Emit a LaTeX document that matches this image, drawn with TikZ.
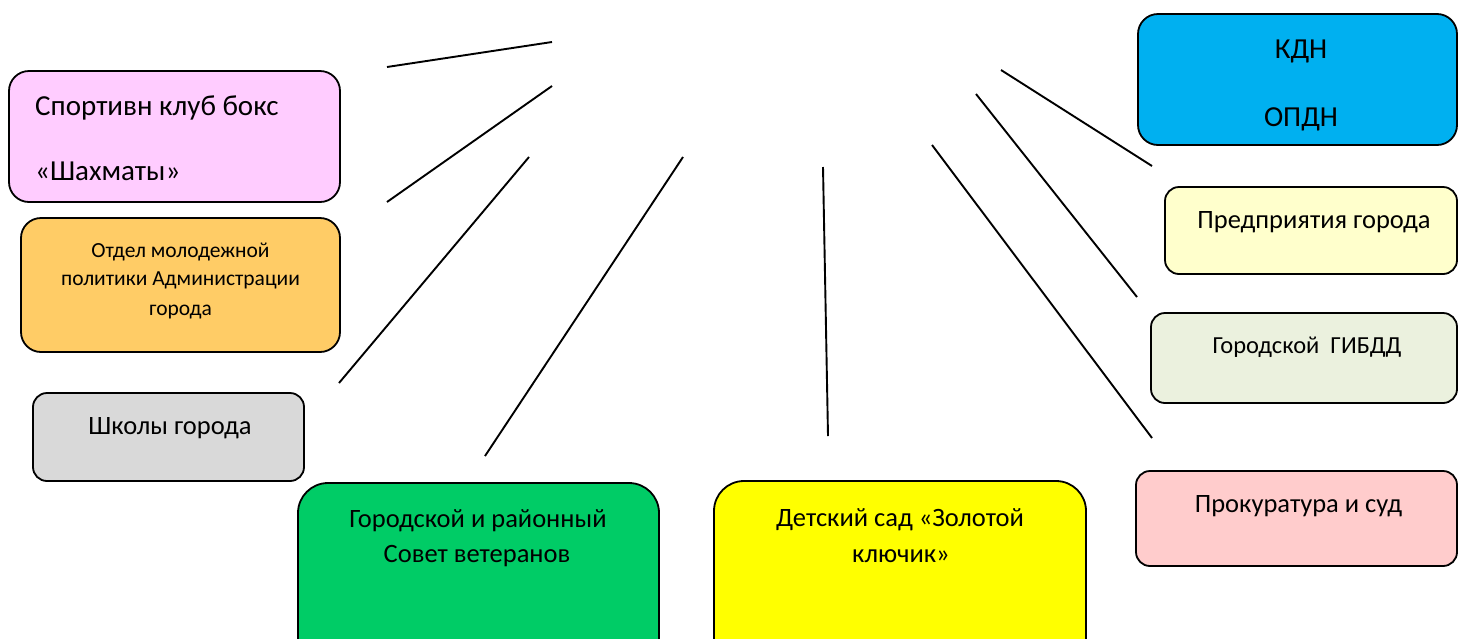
\documentclass[tikz,border=0pt]{standalone}
\usepackage{fontspec}
\setmainfont{Carlito}
\begin{document}
\begin{tikzpicture}[x=1pt,y=-1pt,
  box/.style={draw=black,line width=1.8pt,rounded corners=#1},
  box/.default=18pt,
  txt/.style={inner sep=0pt,anchor=base,font=\fontsize{26.5}{30}\selectfont},
  bigtxt/.style={inner sep=0pt,anchor=base west,font=\fontsize{29}{33}\selectfont},
  smalltxt/.style={inner sep=0pt,anchor=base,font=\fontsize{21.5}{25}\selectfont},
  midtxt/.style={inner sep=0pt,anchor=base,font=\fontsize{24.5}{28}\selectfont},
  link/.style={draw=black,line width=1.9pt}]
\useasboundingbox (0,0) rectangle (1458,638);
\clip (0,0) rectangle (1458,638);
\definecolor{cpink}{HTML}{FFCCFF}
\definecolor{corange}{HTML}{FFCC66}
\definecolor{cgray}{HTML}{D9D9D9}
\definecolor{cgreen}{HTML}{00CC66}
\definecolor{cyellow}{HTML}{FFFF00}
\definecolor{cblue}{HTML}{00B0F0}
\definecolor{clyellow}{HTML}{FFFFCC}
\definecolor{clgreen}{HTML}{EBF1DE}
\definecolor{cred}{HTML}{FFCCCC}
% boxes
\path[box=20pt,fill=cpink] (9,71) rectangle (340,202);
\path[box=20pt,fill=corange] (21,218) rectangle (340,352);
\path[box=14pt,fill=cgray] (33,393) rectangle (304,481);
\path[box=30pt,fill=cgreen] (298,483) rectangle (659,680);
\path[box=30pt,fill=cyellow] (714,481) rectangle (1086,680);
\path[box=20pt,fill=cblue] (1138,14) rectangle (1457,145);
\path[box=14pt,fill=clyellow] (1165,187) rectangle (1457,274);
\path[box=14pt,fill=clgreen] (1151,313) rectangle (1457,403);
\path[box=14pt,fill=cred] (1136,471) rectangle (1457,566);
% texts
\node[bigtxt] (t1a) at (35,115) {Спортивн клуб бокс};
\node[bigtxt] (t1b) at (35,180) {«Шахматы»};
\node[smalltxt] (t2a) at (180.5,257) {Отдел молодежной};
\node[smalltxt] (t2b) at (180.5,285) {политики Администрации};
\node[smalltxt] (t2c) at (180.5,315) {города};
\node[txt] (t3) at (170,434) {Школы города};
\node[txt] (t4a) at (478,527) {Городской и районный};
\node[txt] (t4b) at (477,562) {Совет ветеранов};
\node[txt] (t5a) at (900,526) {Детский сад «Золотой};
\node[txt] (t5b) at (901,562) {ключик»};
\node[bigtxt,anchor=base] (t6a) at (1301,58) {КДН};
\node[bigtxt,anchor=base] (t6b) at (1301,126) {ОПДН};
\node[txt] (t7) at (1314,228) {Предприятия города};
\node[midtxt] (t8) at (1307,353) {Городской\ \ ГИБДД};
\node[txt] (t9) at (1298.5,512) {Прокуратура и суд};
% lines
\coordinate (a1) at (387,67);   \coordinate (b1) at (552,42);
\coordinate (a2) at (387,202);  \coordinate (b2) at (552,86);
\coordinate (a3) at (339,383);  \coordinate (b3) at (529,157);
\coordinate (a4) at (485,456);  \coordinate (b4) at (683,157);
\coordinate (a5) at (828,436);  \coordinate (b5) at (823,167);
\coordinate (a6) at (1152,438); \coordinate (b6) at (932,145);
\coordinate (a7) at (1137,297); \coordinate (b7) at (976,94);
\coordinate (a8) at (1152,166); \coordinate (b8) at (1001,70);
\foreach \i in {1,...,8} \draw[link] (a\i) -- (b\i);
\end{tikzpicture}
\end{document}
